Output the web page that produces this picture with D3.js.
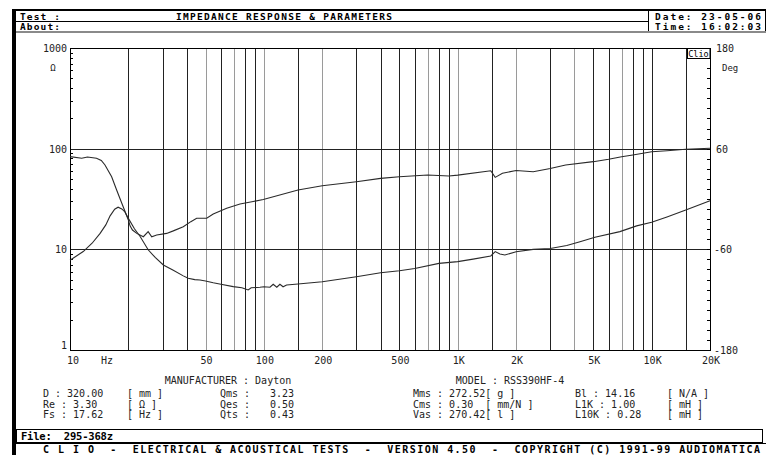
<!DOCTYPE html>
<html><head><meta charset="utf-8">
<script src="https://cdn.jsdelivr.net/npm/d3@7"></script>
<style>
html,body{margin:0;padding:0;background:#fff;}
svg{display:block;}
text{font-family:"DejaVu Sans Mono",monospace;}
</style></head>
<body>
<svg id="c" width="766" height="455"></svg>
<script>
// ---------- DATA ----------
const magFreq  = [10,11.7,13,14.3,15.3,16.1,17,17.7,18.5,19.2,20,21.5,23,25.3,27.5,30.3,34.1,38.4,40.7,44,46.8,50,54.8,60,69.5,77,83,86,95.5,100,107.5,111.7,116.6,121,125.6,131,150,200,300,400,500,600,800,1000,1200,1480,1560,1650,1750,2000,2450,3000,3650,4270,5100,6860,8370,10000,12000,15000,20000];
const magOhm   = [7.8,9.5,11.5,14.4,17.5,21.5,25,26.2,25.2,23.5,20.3,16,13.4,9.9,8.3,7.0,6.2,5.45,5.15,5.0,4.95,4.85,4.65,4.5,4.26,4.15,3.95,4.15,4.2,4.25,4.2,4.5,4.2,4.5,4.25,4.42,4.52,4.77,5.35,5.85,6.13,6.45,7.25,7.55,8.0,8.6,9.5,9.0,8.8,9.45,10.0,10.2,10.9,11.9,13.2,15.0,17.1,18.6,21,24.6,30.4];
const phaseFreq = [10,11.5,12.3,13.7,14.5,15.15,16.4,17.4,18.5,20,20.4,21,22.1,23.9,25.3,26.4,28,31.5,34.1,38.4,42,45,50.7,54.8,64.3,75.3,88.1,99.3,150,200,300,400,500,700,900,1000,1480,1560,1700,2000,2450,3000,3600,5000,6000,7000,8000,10000,12000,15000,20000];
const phaseDeg  = [50.5,48.5,50,48.5,46,40.5,26.6,10.7,-5,-25,-32,-37,-41,-45,-39,-45,-43,-41,-38,-33,-27,-23,-23,-18,-11,-6,-3,-0.5,10.7,15.8,20.6,24.6,26.6,28.6,27.5,28.5,33.7,25.8,30.6,34,32.5,36.3,40.5,44.5,47.3,50.4,52.5,56.4,57.6,59.3,60.5];
const gridFreqDark  = [20,30,40,60,80,90,150,300,400,500,600,800,900,1500,3000,5000,6000,8000,9000,10000,15000];
const gridFreqLight = [50,70,100,200,700,1000,2000,4000,7000];
const xTickVals   = [10,50,100,200,500,1000,2000,5000,10000,20000];
const xTickLabels = ["10","50","100","200","500","1K","2K","5K","10K","20K"];
const magTicks    = [1,10,100,1000];
const magTickLabels = ["1","10","100","1000"];
const phaseTicks  = [-180,-60,60,180];
const phaseTickLabels = ["-180","-60","60","180"];
const paramRows = [
  ["D : 320.00","[ mm ]","Qms :","3.23","Mms : 272.52[ g ]","Bl : 14.16","[ N/A ]"],
  ["Re : 3.30","[ \u03A9 ]","Qes :","0.50","Cms : 0.30  [ mm/N ]","L1K : 1.00","[ mH ]"],
  ["Fs : 17.62","[ Hz ]","Qts :","0.43","Vas : 270.42[ l ]","L10K : 0.28","[ mH ]"]
];

// ---------- DRAW ----------
const svg = d3.select("#c");
const L=70,R=710,T=48,B=350;
const x = d3.scaleLog().domain([10,20000]).range([L,R]);
const yM = d3.scaleLog().domain([1,1000]).range([B,T]);
const yP = d3.scaleLinear().domain([-180,180]).range([B,T]);

svg.append("rect").attr("width",766).attr("height",455).attr("fill","#fff");

// outer left bar
svg.append("rect").attr("x",12).attr("y",9).attr("width",4).attr("height",446).attr("fill","#000");

// header
svg.append("rect").attr("x",12).attr("y",9).attr("width",754).attr("height",2).attr("fill","#000");
svg.append("line").attr("x1",16).attr("x2",648).attr("y1",21.5).attr("y2",21.5).attr("stroke","#000").attr("stroke-width",1);
svg.append("line").attr("x1",648.5).attr("x2",648.5).attr("y1",10).attr("y2",32).attr("stroke","#000");
svg.append("line").attr("x1",765.5).attr("x2",765.5).attr("y1",10).attr("y2",32).attr("stroke","#000");
svg.append("rect").attr("x",16).attr("y",31).attr("width",750).attr("height",2).attr("fill","#8a8a8a");
const hdr = (t,xx,yy,len)=>{const s=svg.append("text").attr("x",xx).attr("y",yy).attr("font-size",9.5).attr("font-weight","bold").attr("fill","#000").text(t); if(len) s.attr("textLength",len).attr("lengthAdjust","spacing");};
hdr("Test :",20,19.5,40);
hdr("About:",20,29.5,40);
hdr("IMPEDANCE RESPONSE & PARAMETERS",176,19.5,216);
hdr("Date: 23-05-06",655,19.5,106);
hdr("Time: 16:02:03",655,29.5,106);

// grid
const g = svg.append("g");
g.selectAll("line.gl").data(gridFreqLight).join("line")
  .attr("x1",d=>Math.round(x(d))+0.5).attr("x2",d=>Math.round(x(d))+0.5).attr("y1",T).attr("y2",B)
  .attr("stroke","#9a9a9a").attr("stroke-width",1);
g.selectAll("line.gd").data(gridFreqDark).join("line")
  .attr("x1",d=>Math.round(x(d))+0.5).attr("x2",d=>Math.round(x(d))+0.5).attr("y1",T).attr("y2",B)
  .attr("stroke","#222").attr("stroke-width",1);
g.selectAll("line.h").data([10,100]).join("line")
  .attr("x1",L).attr("x2",R).attr("y1",d=>Math.round(yM(d))+0.5).attr("y2",d=>Math.round(yM(d))+0.5)
  .attr("stroke","#222").attr("stroke-width",1);

// axes frame
svg.append("rect").attr("x",L+0.5).attr("y",T+0.5).attr("width",R-L).attr("height",B-T).attr("fill","none").attr("stroke","#000").attr("stroke-width",1);

// left minor ticks
const minor=[];
[1,10,100].forEach(dc=>{for(let k=2;k<=9;k++)minor.push(dc*k);});
svg.selectAll("line.lt").data(minor).join("line")
  .attr("x1",L).attr("x2",L+3).attr("y1",d=>Math.round(yM(d))+0.5).attr("y2",d=>Math.round(yM(d))+0.5).attr("stroke","#000");
// right ticks
svg.selectAll("line.rt").data(d3.range(-180,181,12)).join("line")
  .attr("x1",R-3).attr("x2",R+1).attr("y1",d=>Math.round(yP(d))+0.5).attr("y2",d=>Math.round(yP(d))+0.5).attr("stroke","#000");

// curves
const magLine = d3.line().x((d,i)=>x(magFreq[i])).y(d=>yM(d));
svg.append("path").datum(magOhm).attr("d",magLine).attr("fill","none").attr("stroke","#2a2a2a").attr("stroke-width",1.1);
const phLine = d3.line().x((d,i)=>x(phaseFreq[i])).y(d=>yP(d));
svg.append("path").datum(phaseDeg).attr("d",phLine).attr("fill","none").attr("stroke","#2a2a2a").attr("stroke-width",1.1);

// Clio box
svg.append("rect").attr("x",687.5).attr("y",T+0.5).attr("width",22.5).attr("height",10).attr("fill","#fff").attr("stroke","#000");
svg.append("text").attr("x",698.5).attr("y",T+8.5).attr("text-anchor","middle").attr("font-size",8.5).attr("font-family","DejaVu Serif").attr("fill","#000").text("Clio");

// axis labels
svg.selectAll("text.ml").data(magTicks).join("text")
  .attr("x",67).attr("y",d=>yM(d)+(d===1?-1:4)).attr("text-anchor","end").attr("font-size",10).attr("fill","#222")
  .text((d,i)=>magTickLabels[i]);
svg.append("text").attr("x",53).attr("y",71).attr("text-anchor","middle").attr("font-size",9).attr("fill","#222").text("\u03A9");
svg.selectAll("text.pl").data(phaseTicks).join("text")
  .attr("x",d=>d<0?714:716).attr("y",d=>yP(d)+4).attr("font-size",10).attr("fill","#222")
  .text((d,i)=>phaseTickLabels[i]);
svg.append("text").attr("x",722).attr("y",71).attr("font-size",9).attr("fill","#222").text("Deg");
svg.selectAll("text.xl").data(xTickVals).join("text")
  .attr("x",d=>x(d)+(d===10?3:1)).attr("y",364).attr("text-anchor","middle").attr("font-size",10).attr("fill","#222")
  .text((d,i)=>xTickLabels[i]);
svg.append("text").attr("x",107).attr("y",364).attr("text-anchor","middle").attr("font-size",10).attr("fill","#222").text("Hz");

// manufacturer / model
svg.append("text").attr("x",228).attr("y",384).attr("text-anchor","middle").attr("font-size",10).attr("fill","#222").text("MANUFACTURER : Dayton");
svg.append("text").attr("x",510).attr("y",384).attr("text-anchor","middle").attr("font-size",10).attr("fill","#222").text("MODEL : RSS390HF-4");

// params
const colX=[43,127,220,270,413,575,667];
paramRows.forEach((row,r)=>{
  row.forEach((t,c)=>{
    svg.append("text").attr("x",colX[c]).attr("y",397+r*10.5).attr("font-size",10).attr("fill","#222").style("white-space","pre").text(t);
  });
});

// file box
svg.append("rect").attr("x",16.5).attr("y",429.5).attr("width",746).attr("height",13).attr("fill","none").attr("stroke","#000");
svg.append("text").attr("x",21).attr("y",439.5).attr("font-size",10.5).attr("font-weight","bold").attr("fill","#000").attr("textLength",92).attr("lengthAdjust","spacing").style("white-space","pre").text("File:  295-368z");

// footer
svg.append("rect").attr("x",16).attr("y",443).attr("width",750).attr("height",1).attr("fill","#000");
svg.append("text").attr("x",43).attr("y",452.5).attr("font-size",10).attr("font-weight","bold").attr("fill","#000").attr("textLength",717).attr("lengthAdjust","spacing").style("white-space","pre")
  .text("C L I O  -  ELECTRICAL & ACOUSTICAL TESTS  -  VERSION 4.50  -  COPYRIGHT (C) 1991-99 AUDIOMATICA");
</script>
</body></html>
